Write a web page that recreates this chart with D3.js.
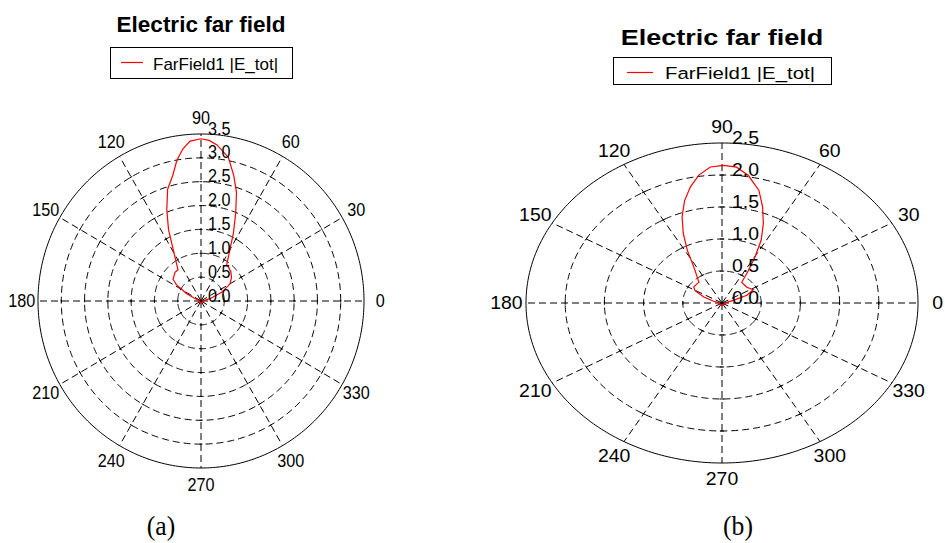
<!DOCTYPE html>
<html>
<head>
<meta charset="utf-8">
<script src="https://cdn.jsdelivr.net/npm/d3@7"></script>
<style>
  body { margin: 0; background: #fff; }
  svg { display: block; }
</style>
</head>
<body>
<div id="chart"></div>
<script>
// angle grid (degrees) shared by both plots
let angleTicks = [0, 30, 60, 90, 120, 150, 180, 210, 240, 270, 300, 330];

// panel (a): far field pattern, theta in degrees, |E_tot|
let thetaA = [0, 10, 15, 23, 30, 37, 44, 50, 54, 60, 64, 68, 71.5, 75, 79, 84, 87, 90,
              94, 97, 100, 103, 107, 111, 115, 119, 127, 133, 143, 147, 153, 158, 165, 180,
              200, 230, 270, 310, 340, 360];
let rA = [0.03, 0.08, 0.22, 0.50, 0.72, 0.82, 0.89, 0.92, 0.94, 1.24, 1.59, 1.99, 2.40, 2.72, 3.07, 3.29, 3.37, 3.40,
          3.36, 3.21, 2.99, 2.70, 2.45, 2.05, 1.65, 1.23, 0.82, 0.82, 0.75, 0.63, 0.36, 0.15, 0.06, 0.03,
          0.05, 0.03, 0.05, 0.03, 0.05, 0.03];
let ringsA = [0.5, 1.0, 1.5, 2.0, 2.5, 3.0, 3.5];
let ringLabelsA = ["0.0", "0.5", "1.0", "1.5", "2.0", "2.5", "3.0", "3.5"];

// panel (b)
let thetaB = [0, 10, 16, 21, 27.5, 38, 52, 56.5, 59.6, 63, 67, 71, 75, 80.4, 85, 89.5,
              94, 98.4, 102.5, 106.6, 110.7, 114.5, 118.3, 122.5, 132, 145, 151, 158, 166, 175,
              200, 230, 270, 310, 340, 360];
let rB = [0.03, 0.06, 0.15, 0.34, 0.45, 0.40, 0.41, 0.61, 0.83, 1.10, 1.35, 1.59, 1.82, 2.02, 2.13, 2.15,
          2.13, 2.02, 1.86, 1.67, 1.44, 1.19, 0.93, 0.67, 0.44, 0.44, 0.39, 0.25, 0.11, 0.04,
          0.04, 0.03, 0.04, 0.03, 0.04, 0.03];
let ringsB = [0.5, 1.0, 1.5, 2.0, 2.5];
let ringLabelsB = ["0.0", "0.5", "1.0", "1.5", "2.0", "2.5"];

let titleText = "Electric far field";
let legendText = "FarField1 |E_tot|";
let panelNames = ["(a)", "(b)"];

let width = 945;
let height = 543;

let svg = d3.select("#chart")
    .append("svg")
    .attr("width", width)
    .attr("height", height);

let font = "'Liberation Sans', Arial, sans-serif";

// helper: put a text with optional horizontal stretch
function addText(g, x, y, str, opts) {
    let t = g.append("text")
        .attr("transform", `translate(${x},${y}) scale(${opts.sx || 1},1)`)
        .attr("font-family", opts.family || font)
        .attr("font-size", opts.size)
        .attr("font-weight", opts.weight || "normal")
        .attr("text-anchor", opts.anchor || "start")
        .attr("fill", "#000")
        .text(str);
    if (opts.dy) t.attr("dy", opts.dy);
    return t;
}

function drawPolar(p) {
    let g = svg.append("g");
    let rmax = p.rings[p.rings.length - 1];

    let x = d3.scaleLinear().domain([-rmax, rmax]).range([p.cx - p.rx, p.cx + p.rx]);
    let y = d3.scaleLinear().domain([-rmax, rmax]).range([p.cy + p.ry, p.cy - p.ry]);
    let rad = d => d * Math.PI / 180;
    let px = (th, r) => x(r * Math.cos(rad(th)));
    let py = (th, r) => y(r * Math.sin(rad(th)));

    let line = d3.line().x(d => px(d[0], d[1])).y(d => py(d[0], d[1]));
    let circ = d3.range(0, 361, 1);

    // dashed rings (outer one is solid)
    g.append("g").selectAll("path")
        .data(p.rings)
        .join("path")
        .attr("d", r => line(circ.map(a => [a, r])))
        .attr("fill", "none")
        .attr("stroke", "#000")
        .attr("stroke-width", 1)
        .attr("stroke-dasharray", r => r === rmax ? null : "7,4");

    // spokes
    g.append("g").selectAll("line")
        .data(angleTicks)
        .join("line")
        .attr("x1", px(0, 0)).attr("y1", py(0, 0))
        .attr("x2", a => px(a, rmax)).attr("y2", a => py(a, rmax))
        .attr("stroke", "#000")
        .attr("stroke-width", 1)
        .attr("stroke-dasharray", "7,4");

    // small cross ticks where spokes meet rings
    let cross = [];
    angleTicks.forEach(a => p.rings.slice(0, -1).forEach(r => cross.push([a, r])));
    let half = d => 1.6 / d[1];
    g.append("g").selectAll("line")
        .data(cross)
        .join("line")
        .attr("x1", d => px(d[0] - half(d), d[1]))
        .attr("y1", d => py(d[0] - half(d), d[1]))
        .attr("x2", d => px(d[0] + half(d), d[1]))
        .attr("y2", d => py(d[0] + half(d), d[1]))
        .attr("stroke", "#000")
        .attr("stroke-width", 1);

    // pattern
    g.append("path")
        .datum(p.theta.map((t, i) => [t, p.r[i]]))
        .attr("d", line)
        .attr("fill", "none")
        .attr("stroke", "#ff0000")
        .attr("stroke-width", 1.2);

    // angle labels
    angleTicks.forEach(a => {
        addText(g, px(a, rmax * 1.1), py(a, rmax * 1.1), String(a),
            {size: 18, anchor: "middle", dy: "0.36em", sx: p.sx * 0.9});
    });

    // radial labels
    p.ringLabels.forEach(s => {
        addText(g, p.cx + p.lx, y(+s) + 0.5, s, {size: 18, sx: p.sx * 0.9});
    });

    // title + legend
    addText(g, p.cx, p.titleY, titleText, {size: 22.5, weight: "bold", anchor: "middle", sx: p.sx});
    g.append("rect")
        .attr("x", p.box[0]).attr("y", p.box[1])
        .attr("width", p.box[2]).attr("height", p.box[3])
        .attr("fill", "#fff").attr("stroke", "#000").attr("stroke-width", 1);
    g.append("line")
        .attr("x1", p.leg[0]).attr("x2", p.leg[1])
        .attr("y1", p.leg[2]).attr("y2", p.leg[2])
        .attr("stroke", "#ff0000").attr("stroke-width", 1.2);
    addText(g, p.leg[3], p.leg[4], legendText, {size: 17, sx: p.sx});

    addText(g, p.nameX, 535, p.name,
        {size: 27, family: "'Liberation Serif', 'Times New Roman', serif", anchor: "middle", sx: 0.95});
}

drawPolar({
    cx: 201, cy: 301, rx: 163, ry: 167, sx: 1,
    rings: ringsA, ringLabels: ringLabelsA, theta: thetaA, r: rA,
    lx: 7, titleY: 32,
    box: [110.5, 47.5, 182, 31], leg: [121, 143, 62.5, 153, 70],
    name: panelNames[0], nameX: 161
});

drawPolar({
    cx: 722, cy: 303, rx: 196, ry: 160, sx: 1.2,
    rings: ringsB, ringLabels: ringLabelsB, theta: thetaB, r: rB,
    lx: 10, titleY: 45,
    box: [613.5, 57.5, 218, 27], leg: [627, 653, 72.5, 665, 79],
    name: panelNames[1], nameX: 738
});
</script>
</body>
</html>
